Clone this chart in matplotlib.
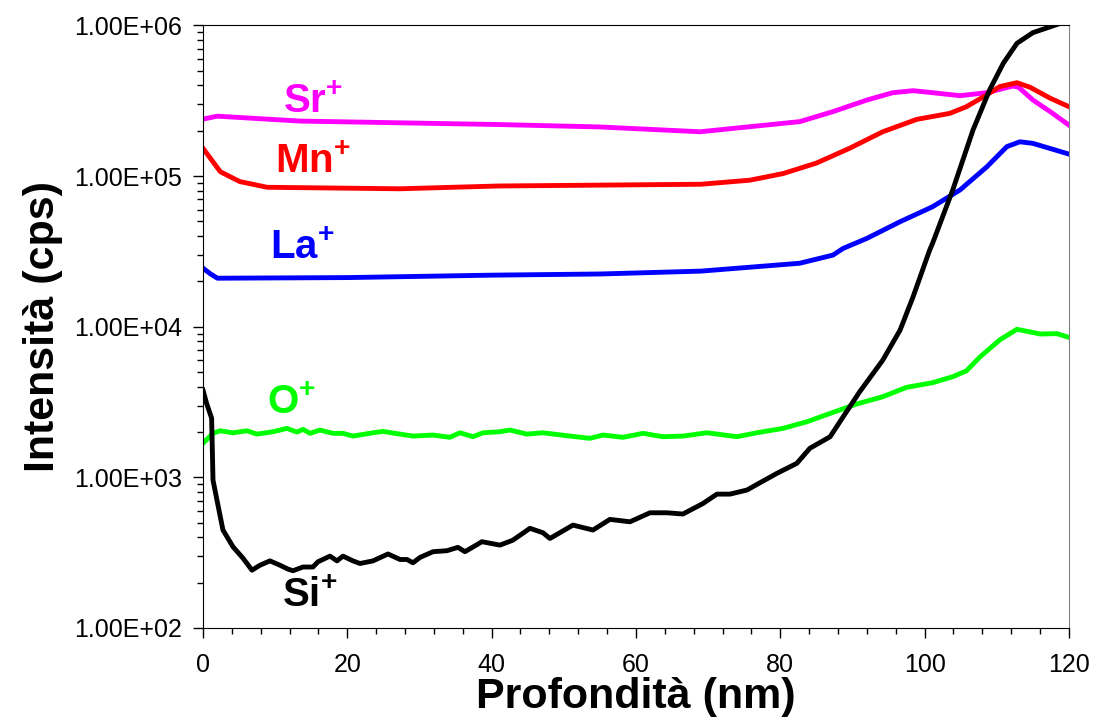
import matplotlib
matplotlib.use('Agg')
import matplotlib.pyplot as plt
from matplotlib.ticker import FuncFormatter, MultipleLocator, LogLocator

plt.rcParams['font.family'] = ['Liberation Sans', 'DejaVu Sans']
plt.rcParams['mathtext.fontset'] = 'custom'
plt.rcParams['mathtext.rm'] = 'Liberation Sans'
plt.rcParams['mathtext.bf'] = 'Liberation Sans:bold'

# profili SIMS
sr_x = [0, 2, 13.4, 41, 55, 68.9, 82.7, 87.3, 92, 95.6, 98.4, 101.1, 104.9, 108.6, 112.2, 113, 115, 117.4, 120]
sr_y = [2.39e5, 2.5e5, 2.32e5, 2.2e5, 2.12e5, 1.97e5, 2.30e5, 2.68e5, 3.2e5, 3.58e5, 3.69e5, 3.58e5, 3.42e5, 3.58e5,
        3.96e5, 3.9e5, 3.2e5, 2.68e5, 2.18e5]

mn_x = [0, 0.5, 2.4, 5.1, 8.9, 27.3, 41, 69, 75.8, 80.4, 85, 89.6, 94.2, 98.9, 103.5, 105.8, 108.6, 110.4, 112.8,
        114.6, 117.4, 120]
mn_y = [1.53e5, 1.42e5, 1.07e5, 9.2e4, 8.43e4, 8.24e4, 8.6e4, 8.83e4, 9.4e4, 1.04e5, 1.22e5, 1.53e5, 1.97e5, 2.38e5,
        2.61e5, 2.89e5, 3.46e5, 3.93e5, 4.17e5, 3.89e5, 3.29e5, 2.89e5]

la_x = [0, 1, 2, 20, 40, 55, 69, 82.7, 87.3, 88.7, 92, 96.6, 101.1, 104.9, 108.6, 111.4, 113.2, 115, 120]
la_y = [2.45e4, 2.25e4, 2.1e4, 2.12e4, 2.2e4, 2.24e4, 2.34e4, 2.64e4, 2.99e4, 3.31e4, 3.86e4, 4.98e4, 6.26e4, 8.09e4,
        1.15e5, 1.57e5, 1.69e5, 1.65e5, 1.4e5]

o_x = [0, 1.39, 2.36, 4.16, 6.1, 7.48, 9.7, 11.64, 13.02, 13.86, 14.83, 16.21, 18.01, 19.4, 20.78, 23.56, 24.94,
       27.3, 29.1, 31.87, 34.22, 35.61, 37.41, 38.8, 41.15, 42.54, 44.89, 47.11, 50.85, 53.62, 55.42, 58.2, 60.97,
       63.74, 66.51, 69.84, 73.99, 76.76, 80.37, 83.69, 87.3, 90.6, 94.2, 97.5, 101.1, 103.9, 105.8, 107.7, 110.4,
       112.8, 116, 118.3, 120]
o_y = [1683, 1960, 2038, 1977, 2038, 1937, 2009, 2115, 1998, 2083, 1960, 2061, 1960, 1960, 1880, 1977, 2019,
       1937, 1880, 1910, 1845, 1977, 1862, 1977, 2009, 2061, 1937, 1977, 1880, 1816, 1910, 1845, 1960,
       1862, 1880, 1977, 1862, 1977, 2115, 2340, 2.7e3, 3.07e3, 3.43e3, 3.96e3, 4.25e3, 4.66e3, 5.1e3, 6.32e3,
       8.17e3, 9.62e3, 8.95e3, 9.0e3, 8.5e3]

si_x = [0, 0.5, 1.2, 1.39, 1.94, 2.77, 4.16, 5.54, 6.79, 7.9, 9.28, 10.67, 11.78, 12.47, 13.86, 15.24, 15.93, 17.6,
        18.57, 19.4, 20.78, 21.75, 23.56, 25.64, 27.3, 28.27, 29.1, 30.07, 31.87, 33.81, 35.33, 36.3, 38.66, 41.15,
        42.95, 45.31, 47.11, 48.08, 51.27, 54.04, 56.39, 59.17, 61.94, 64.3, 66.51, 69.29, 71.22, 73.02, 75.38,
        77.18, 79.53, 82.3, 84.1, 86.9, 88.7, 91, 94.2, 96.6, 98.4, 100.7, 101.1, 103.9, 106.7, 109, 110.9, 112.8,
        115, 117.4, 120]
si_y = [3.8e3, 3.1e3, 2.47e3, 959, 706, 447, 346, 291, 242, 261, 279, 261, 246, 240, 254, 254, 275, 300,
        279, 300, 279, 268, 279, 310, 285, 285, 271, 294, 321, 326, 343, 321, 374, 355,
        383, 459, 429, 393, 482, 447, 526, 507, 582, 582, 571, 671, 774, 774, 824,
        921, 1063, 1240, 1560, 1.86e3, 2.52e3, 3.7e3, 6.0e3, 9.5e3, 1.58e4, 3.23e4, 3.58e4, 8.1e4, 2.02e5, 3.73e5,
        5.61e5, 7.62e5, 8.96e5, 9.8e5, 1.08e6]

fig = plt.figure(figsize=(10.93, 7.22), dpi=100)
ax = fig.add_axes([0.1857, 0.1302, 0.7923, 0.8345])

lw = 3.5
ax.plot(sr_x, sr_y, color='#FF00FF', lw=lw)
ax.plot(mn_x, mn_y, color='#FF0000', lw=lw)
ax.plot(la_x, la_y, color='#0000FF', lw=lw)
ax.plot(o_x, o_y, color='#00FF00', lw=lw)
ax.plot(si_x, si_y, color='black', lw=lw)

ax.set_yscale('log')
ax.set_xlim(0, 120)
ax.set_ylim(1e2, 1e6)

ax.yaxis.set_major_formatter(FuncFormatter(lambda v, p: f'{v:.2E}'))
ax.yaxis.set_minor_locator(LogLocator(base=10, subs=range(2, 10)))
ax.yaxis.set_minor_formatter(FuncFormatter(lambda v, p: ''))
ax.xaxis.set_major_locator(MultipleLocator(20))
ax.xaxis.set_minor_locator(MultipleLocator(4))

ax.tick_params(which='major', direction='out', length=7, width=1, labelsize=18, pad=8)
ax.tick_params(which='minor', direction='out', length=4.5, width=1)
ax.tick_params(axis='x', pad=11)
ax.spines['right'].set_color('#808080')

ax.set_xlabel('Profondità (nm)', fontsize=31, fontweight='bold', labelpad=0)
ax.set_ylabel('Intensità (cps)', fontsize=31, fontweight='bold', labelpad=8)

# etichette delle specie
fs = 29
ax.text(11.1, 2.62e5, r'$\mathbf{Sr^{+}}$', color='#FF00FF', fontsize=fs)
ax.text(10.0, 1.05e5, r'$\mathbf{Mn^{+}}$', color='#FF0000', fontsize=fs)
ax.text(9.3, 2.8e4, r'$\mathbf{La^{+}}$', color='#0000FF', fontsize=fs)
ax.text(8.9, 2.62e3, r'$\mathbf{O^{+}}$', color='#00FF00', fontsize=fs)
ax.text(10.9, 1.38e2, r'$\mathbf{Si^{+}}$', color='black', fontsize=fs)

fig.savefig('out.png', dpi=100)
